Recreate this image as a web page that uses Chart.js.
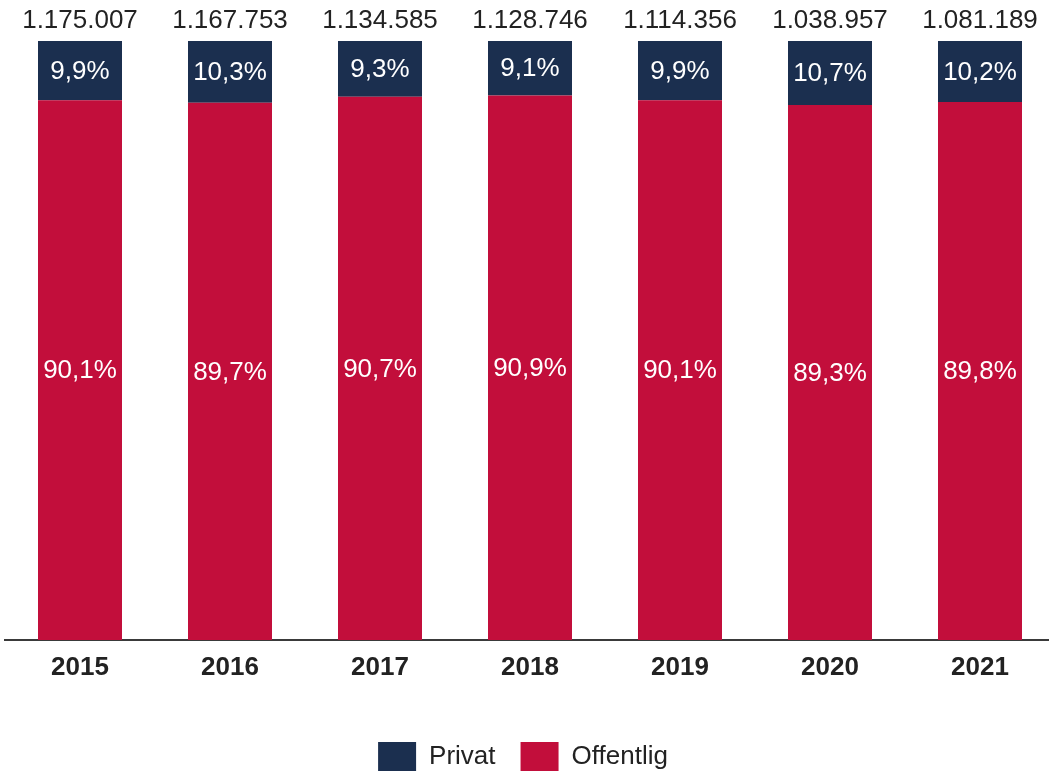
<!DOCTYPE html>
<html>
<head>
<meta charset="utf-8">
<script src="https://cdn.jsdelivr.net/npm/chart.js@4/dist/chart.umd.min.js"></script>
<style>
    html, body{ margin:0; padding:0; overflow:hidden; background:#ffffff; }
    #wrap{ width:1055px; height:781px; }
</style>
</head>
<body>
<div id="wrap"><canvas id="graphShare" width="1055" height="781"></canvas></div>
<script>
const years = ['2015', '2016', '2017', '2018', '2019', '2020', '2021'];
const totals = [1175007, 1167753, 1134585, 1128746, 1114356, 1038957, 1081189];
const offentlig = [90.1, 89.7, 90.7, 90.9, 90.1, 89.3, 89.8];
const privat = [9.9, 10.3, 9.3, 9.1, 9.9, 10.7, 10.2];

const navy = '#1b2f4f';
const crimson = '#c20e3b';

function formatTotal(num){
    return num.toString().replace(/\B(?=(\d{3})+(?!\d))/g, '.');
};

function formatPercent(num){
    return num.toFixed(1).replace('.', ',') + '%';
};

// draws the percentages inside the bars and the totals on top
const barLabels = {
    id: 'barLabels',
    afterLayout(chart){
        // legend sits a little left of the canvas centre in the original
        chart.legend.left -= 14;
    },
    afterDatasetsDraw(chart){
        const ctx = chart.ctx;
        ctx.save();
        ctx.font = '26px "Liberation Sans", Arial, sans-serif';
        ctx.textAlign = 'center';
        ctx.textBaseline = 'middle';

        chart.data.datasets.forEach(function(ds, di){
            const meta = chart.getDatasetMeta(di);
            meta.data.forEach(function(bar, i){
                ctx.fillStyle = '#ffffff';
                ctx.fillText(formatPercent(ds.data[i]), bar.x, (bar.y + bar.base) / 2 + 1);
            });
        });

        const topMeta = chart.getDatasetMeta(chart.data.datasets.length - 1);
        topMeta.data.forEach(function(bar, i){
            ctx.fillStyle = '#222222';
            ctx.fillText(formatTotal(totals[i]), bar.x, bar.y - 20);
        });
        ctx.restore();
    }
};

window.addEventListener("load", function(){

    Chart.defaults.font.family = '"Liberation Sans", Arial, sans-serif';
    Chart.defaults.font.size = 26;
    Chart.defaults.color = '#222222';

    const canvas = document.getElementById('graphShare').getContext('2d');
    let graphShare = new Chart(canvas, {
        type: 'bar',
        data: {
            labels: years,
            datasets: [{
                label: 'Offentlig',
                backgroundColor: crimson,
                data: offentlig
            },
            {
                label: 'Privat',
                backgroundColor: navy,
                data: privat
            }]
        },
        options: {
            responsive: false,
            animation: false,
            layout: {
                padding: {
                    left: 5,
                    right: 0,
                    top: 41,
                    bottom: 0
                }
            },
            datasets: {
                bar: {
                    categoryPercentage: 1,
                    barPercentage: 0.56
                }
            },
            scales: {
                x: {
                    stacked: true,
                    grid: {
                        display: false,
                        drawTicks: false
                    },
                    border: {
                        display: true,
                        color: '#3a3a3a',
                        width: 2
                    },
                    ticks: {
                        padding: 12,
                        color: '#222222',
                        font: { weight: 'bold', size: 26 }
                    },
                    afterFit: function(scale){
                        scale.height = 77;
                    }
                },
                y: {
                    stacked: true,
                    display: false,
                    min: 0,
                    max: 100
                }
            },
            plugins: {
                legend: {
                    position: 'bottom',
                    reverse: true,
                    labels: {
                        boxWidth: 38,
                        boxHeight: 29,
                        padding: 25,
                        color: '#222222',
                        font: { size: 26 }
                    }
                },
                tooltip: { enabled: false }
            }
        },
        plugins: [barLabels]
    });
});
</script>
</body>
</html>
